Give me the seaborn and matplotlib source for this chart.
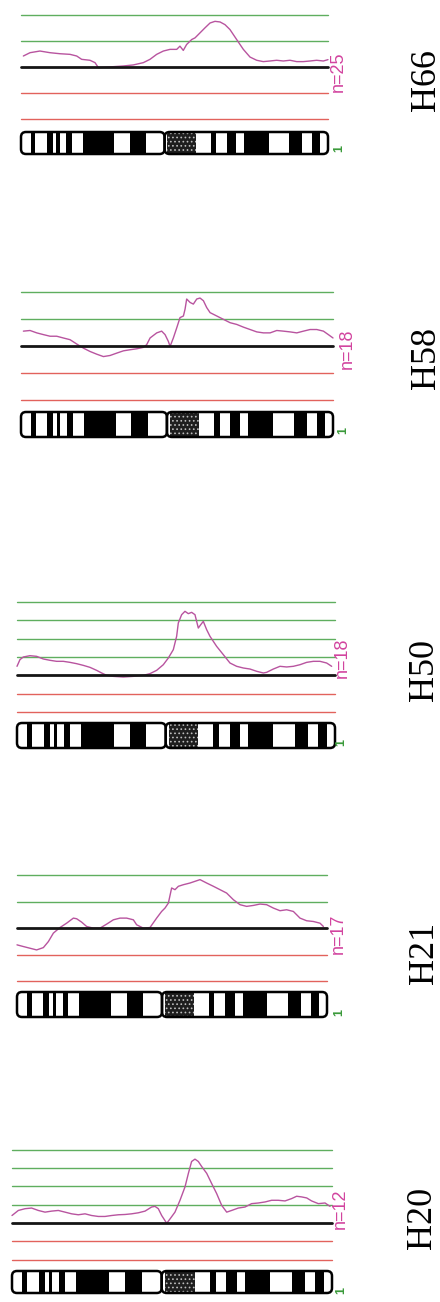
import numpy as np
import pandas as pd
import matplotlib
matplotlib.use("Agg")
import matplotlib.pyplot as plt
from matplotlib.patches import FancyBboxPatch
import seaborn as sns

# ---------------- data ----------------
CHROM_LEN = 248.0          # chromosome 1 length (Mb)
CEN_POS = 116.0            # centromere position (Mb)

BAND_START = [7.8, 20.8, 28.6, 36.4, 49.9, 87.8, 118.2, 153.2, 166.2, 180.5, 216.8, 235.0]
BAND_END   = [11.7, 25.5, 31.2, 41.0, 75.3, 100.8, 141.5, 157.9, 174.0, 200.0, 227.2, 241.5]
BAND_STAIN = ["gpos", "gpos", "gpos", "gpos", "gpos", "gpos", "gvar",
              "gpos", "gpos", "gpos", "gpos", "gpos"]

SAMPLES = ["H66", "H58", "H50", "H21", "H20"]
N_CASES = [25, 18, 18, 17, 12]
CHROM_LABEL = "1"

BASELINE = 1.0
LOSS_LINES = [0.75, 0.5]
GAIN_LINES_H66 = [1.25, 1.5]
GAIN_LINES_H58 = [1.25, 1.5]
GAIN_LINES_H50 = [1.25, 1.5, 1.75, 2.0]
GAIN_LINES_H21 = [1.25, 1.5]
GAIN_LINES_H20 = [1.25, 1.5, 1.75, 2.0]

H66_POS = [1.9, 7.3, 15.3, 23.4, 31.5, 39.6, 45.0, 49.0, 55.7, 59.8, 62.5, 71.9, 82.7, 90.7,
           98.8, 104.2, 109.6, 115.0, 120.4, 125.8, 128.4, 131.1, 133.8, 137.9, 140.6, 144.6,
           148.6, 152.7, 156.7, 160.8, 164.8, 168.8, 174.2, 179.6, 185.0, 190.4, 195.7, 201.1,
           206.5, 211.9, 217.3, 222.7, 228.0, 233.5, 238.8, 244.2, 248.0]
H66_RATIO = [1.102, 1.134, 1.150, 1.134, 1.124, 1.118, 1.102, 1.070, 1.061, 1.038, 0.990,
             0.997, 1.006, 1.016, 1.038, 1.070, 1.118, 1.150, 1.166, 1.166, 1.197, 1.156,
             1.213, 1.261, 1.277, 1.325, 1.373, 1.420, 1.436, 1.430, 1.404, 1.357, 1.261,
             1.166, 1.092, 1.061, 1.048, 1.054, 1.061, 1.054, 1.061, 1.048, 1.048, 1.054,
             1.061, 1.054, 1.067]

H58_POS = [1.9, 7.2, 12.5, 17.8, 23.1, 28.4, 33.6, 39.0, 44.3, 49.6, 54.9, 60.2, 65.5, 70.8,
           76.1, 81.4, 86.7, 92.0, 97.3, 99.9, 102.6, 107.9, 111.8, 114.5, 117.1, 118.5,
           121.1, 123.8, 126.4, 129.1, 130.4, 131.7, 134.4, 137.0, 139.7, 142.3, 145.0,
           147.6, 150.3, 155.6, 160.9, 166.2, 171.5, 176.8, 182.1, 187.4, 192.7, 198.0,
           203.3, 208.6, 213.9, 219.2, 224.5, 229.8, 235.1, 240.4, 244.3, 248.0]
H58_RATIO = [1.141, 1.147, 1.125, 1.109, 1.094, 1.094, 1.078, 1.062, 1.022, 0.984, 0.953,
             0.928, 0.906, 0.916, 0.938, 0.959, 0.969, 0.978, 0.991, 1.016, 1.078, 1.125,
             1.141, 1.109, 1.047, 1.000, 1.078, 1.172, 1.266, 1.281, 1.344, 1.438, 1.406,
             1.391, 1.438, 1.447, 1.422, 1.359, 1.312, 1.281, 1.250, 1.219, 1.203, 1.178,
             1.156, 1.134, 1.125, 1.125, 1.147, 1.141, 1.134, 1.125, 1.141, 1.156, 1.156,
             1.141, 1.109, 1.078]

H50_POS = [0.0, 2.3, 4.9, 10.1, 15.3, 20.5, 25.7, 30.9, 36.1, 41.3, 46.5, 51.7, 56.9, 62.1,
           66.0, 69.9, 75.1, 82.9, 90.7, 94.6, 98.5, 103.7, 108.9, 114.1, 118.0, 121.9,
           124.5, 125.8, 128.4, 131.0, 133.6, 136.2, 138.8, 141.4, 143.3, 145.3, 147.9,
           150.5, 155.7, 160.9, 166.1, 171.3, 176.5, 181.7, 186.9, 192.1, 194.7, 199.9,
           205.1, 210.3, 215.5, 220.7, 225.9, 231.1, 236.3, 241.5, 245.4]
H50_RATIO = [1.123, 1.214, 1.250, 1.268, 1.259, 1.223, 1.205, 1.191, 1.191, 1.177, 1.159,
             1.136, 1.109, 1.068, 1.032, 1.000, 0.986, 0.977, 0.986, 0.995, 1.000, 1.023,
             1.068, 1.145, 1.236, 1.350, 1.532, 1.714, 1.827, 1.873, 1.841, 1.859, 1.827,
             1.645, 1.691, 1.736, 1.623, 1.532, 1.395, 1.282, 1.168, 1.123, 1.100, 1.086,
             1.055, 1.032, 1.041, 1.086, 1.123, 1.114, 1.123, 1.145, 1.177, 1.191, 1.191,
             1.168, 1.123]

H21_POS = [0.0, 5.1, 10.4, 15.7, 21.1, 25.1, 29.1, 34.4, 39.7, 45.1, 47.7, 51.7, 55.7, 61.1,
           66.4, 71.7, 77.1, 82.4, 87.7, 93.1, 95.7, 101.1, 106.4, 111.7, 115.7, 118.4,
           121.1, 123.7, 126.4, 129.1, 133.1, 138.4, 142.4, 146.4, 151.7, 157.1, 162.4,
           167.7, 173.1, 178.4, 183.7, 189.1, 194.4, 199.7, 205.1, 210.4, 215.7, 221.1,
           226.4, 231.7, 237.1, 242.4, 245.1]
H21_RATIO = [0.842, 0.826, 0.810, 0.794, 0.816, 0.873, 0.953, 1.006, 1.047, 1.095, 1.089,
             1.057, 1.016, 1.000, 1.000, 1.038, 1.079, 1.095, 1.095, 1.079, 1.032, 1.000,
             1.006, 1.095, 1.158, 1.190, 1.237, 1.380, 1.364, 1.396, 1.411, 1.427, 1.443,
             1.459, 1.427, 1.396, 1.364, 1.332, 1.269, 1.222, 1.206, 1.215, 1.228, 1.222,
             1.190, 1.165, 1.174, 1.158, 1.095, 1.070, 1.063, 1.047, 1.016]

H20_POS = [0.0, 4.9, 10.1, 15.2, 20.4, 25.6, 30.7, 35.9, 41.1, 46.2, 51.4, 56.6, 61.7, 66.9,
           72.1, 77.2, 82.4, 87.6, 92.7, 97.9, 103.1, 108.2, 110.8, 113.4, 116.0, 119.9,
           122.5, 126.3, 130.2, 134.1, 136.7, 139.2, 141.8, 144.4, 147.0, 150.9, 154.7,
           158.6, 162.5, 166.4, 170.2, 175.4, 180.6, 185.7, 190.9, 196.1, 201.2, 206.4,
           211.6, 216.7, 220.6, 224.5, 228.4, 232.2, 237.4, 242.6, 246.5]
H20_RATIO = [1.101, 1.170, 1.194, 1.203, 1.170, 1.147, 1.161, 1.170, 1.147, 1.124, 1.111,
             1.124, 1.101, 1.088, 1.088, 1.101, 1.111, 1.115, 1.124, 1.138, 1.161, 1.217,
             1.226, 1.194, 1.101, 0.995, 1.055, 1.147, 1.309, 1.493, 1.677, 1.839, 1.871,
             1.839, 1.770, 1.677, 1.539, 1.401, 1.240, 1.147, 1.170, 1.203, 1.217, 1.263,
             1.272, 1.286, 1.309, 1.309, 1.300, 1.332, 1.364, 1.355, 1.341, 1.300, 1.263,
             1.272, 1.226]

PROFILES = {
    "H66": (H66_POS, H66_RATIO, GAIN_LINES_H66),
    "H58": (H58_POS, H58_RATIO, GAIN_LINES_H58),
    "H50": (H50_POS, H50_RATIO, GAIN_LINES_H50),
    "H21": (H21_POS, H21_RATIO, GAIN_LINES_H21),
    "H20": (H20_POS, H20_RATIO, GAIN_LINES_H20),
}

# ---------------- layout (pixels in a 440 x 1302 canvas) ----------------
W, H = 440, 1302
# x0, x1, y_top_line, y_bottom_line, ideo_top, ideo_bottom, n_label (x, y), chrom label (x, y), sample label (x, y)
LAYOUT = [
    (21, 328, 14.7, 118.5, 132, 154, (338, 72), (339, 148), (426, 80)),
    (21, 333, 292.3, 400.5, 412, 437, (347, 349), (343, 430), (426, 358)),
    (17, 335, 602.0, 712.0, 723, 748, (342, 658), (341, 742), (424, 670)),
    (17, 327, 875.3, 981.0, 992, 1017, (338, 934), (339, 1012), (424, 953)),
    (12, 332, 1149.7, 1259.5, 1271, 1293, (340, 1209), (341, 1291), (422, 1218)),
]

GREEN = "#5fae5f"
RED = "#e2625c"
BLACK = "#151515"
PROFILE = "#b8549f"
NLABEL = "#d2449f"
CHROMLABEL = "#3a9a3a"

sns.set_theme(style="white")
plt.rcParams["font.family"] = ["DejaVu Sans"]
plt.rcParams["hatch.linewidth"] = 0.7

fig = plt.figure(figsize=(W / 100, H / 100), dpi=100)
fig.patch.set_facecolor("white")


def px_axes(x0, y0, x1, y1):
    return fig.add_axes([x0 / W, 1 - y1 / H, (x1 - x0) / W, (y1 - y0) / H])


for sample, ncase, lay in zip(SAMPLES, N_CASES, LAYOUT):
    x0, x1, ytop, ybot, itop, ibot, npos, cpos, spos = lay
    pos, ratio, gains = PROFILES[sample]
    top = max(gains)
    bottom = min(LOSS_LINES)

    # ---- profile axes ----
    ax = px_axes(x0, ytop, x1, ybot)
    ax.set_xlim(0, CHROM_LEN)
    ax.set_ylim(bottom, top)
    ax.set_axis_off()
    for g in gains:
        ax.axhline(g, color=GREEN, lw=1.0, clip_on=False, zorder=1)
    for l in LOSS_LINES:
        ax.axhline(l, color=RED, lw=1.0, clip_on=False, zorder=1)
    df = pd.DataFrame({"pos": pos, "ratio": ratio})
    sns.lineplot(data=df, x="pos", y="ratio", ax=ax, color=PROFILE, lw=1.0,
                 sort=False, estimator=None, zorder=2)
    ax.axhline(BASELINE, color=BLACK, lw=2.0, clip_on=False, zorder=3)
    for line in ax.lines:
        line.set_clip_on(False)

    # ---- ideogram axes ----
    iax = px_axes(x0, itop, x1, ibot)
    iax.set_xlim(0, CHROM_LEN)
    iax.set_ylim(0, 1)
    iax.set_axis_off()
    for s, e, st in zip(BAND_START, BAND_END, BAND_STAIN):
        if st == "gvar":
            iax.barh(0.5, e - s, left=s, height=1, color="#1e1e1e", edgecolor="#bdbdbd",
                     linewidth=0, hatch="....", zorder=1)
        else:
            iax.barh(0.5, e - s, left=s, height=1, color="black", linewidth=0, zorder=1)
    px_per_x = (x1 - x0) / CHROM_LEN
    px_per_y = (ibot - itop) / 1.0
    r = 5.0 / px_per_x
    aspect = (5.0 / px_per_y) / r
    for a, b in [(0, CEN_POS), (CEN_POS, CHROM_LEN)]:
        iax.add_patch(FancyBboxPatch((a, 0), b - a, 1,
                                     boxstyle=f"round,pad=0,rounding_size={r}",
                                     mutation_aspect=aspect, fill=False,
                                     edgecolor="black", lw=1.8, clip_on=False, zorder=3))

    # ---- labels ----
    fig.text(npos[0] / W, 1 - npos[1] / H, f"n={ncase}", rotation=90, ha="center",
             va="center", color=NLABEL, fontsize=13, family="Liberation Sans")
    fig.text(cpos[0] / W, 1 - cpos[1] / H, CHROM_LABEL, rotation=90, ha="center",
             va="center", color=CHROMLABEL, fontsize=9, fontweight="bold",
             family="Liberation Sans")
    fig.text(spos[0] / W, 1 - spos[1] / H, sample, rotation=90, ha="center",
             va="center", color="black", fontsize=26, family="Liberation Serif")

fig.savefig("out.png", dpi=100, facecolor="white")
